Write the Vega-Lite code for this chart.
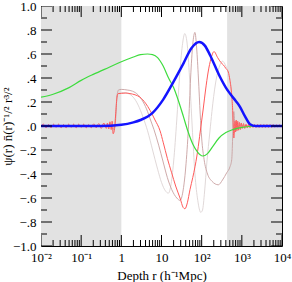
{
  "$schema": "https://vega.github.io/schema/vega-lite/v6.json",
  "width": 241,
  "height": 240,
  "autosize": "none",
  "padding": {"left": 41, "top": 6, "right": 10, "bottom": 36},
  "background": "white",
  "config": {
    "view": {"stroke": "black", "strokeWidth": 1},
    "axis": {
      "labelFont": "Liberation Serif",
      "titleFont": "Liberation Serif",
      "labelColor": "black",
      "titleColor": "black",
      "ticks": false,
      "domain": false,
      "grid": false,
      "labelFontSize": 13,
      "titleFontSize": 13,
      "titleFontWeight": "normal",
      "labelFlush": false,
      "labelOverlap": false,
      "labelBound": false,
      "labelPadding": 5
    }
  },
  "datasets": {
    "bg": [{"r": 0.01, "b": 1, "v": -1, "w": 1}, {"r": 430, "b": 10000, "v": -1, "w": 1}],
    "xmaj": [
      {"r": 0.01, "v": -1}, {"r": 0.1, "v": -1}, {"r": 1, "v": -1}, {"r": 10, "v": -1}, {"r": 100, "v": -1}, {"r": 1000, "v": -1}, {"r": 10000, "v": -1},
      {"r": 0.01, "v": 1}, {"r": 0.1, "v": 1}, {"r": 1, "v": 1}, {"r": 10, "v": 1}, {"r": 100, "v": 1}, {"r": 1000, "v": 1}, {"r": 10000, "v": 1}
    ],
    "xmin": [
      {"r": 0.02, "v": -1}, {"r": 0.03, "v": -1}, {"r": 0.04, "v": -1}, {"r": 0.05, "v": -1}, {"r": 0.06, "v": -1}, {"r": 0.07, "v": -1}, {"r": 0.08, "v": -1}, {"r": 0.09, "v": -1},
      {"r": 0.2, "v": -1}, {"r": 0.3, "v": -1}, {"r": 0.4, "v": -1}, {"r": 0.5, "v": -1}, {"r": 0.6, "v": -1}, {"r": 0.7, "v": -1}, {"r": 0.8, "v": -1}, {"r": 0.9, "v": -1},
      {"r": 2, "v": -1}, {"r": 3, "v": -1}, {"r": 4, "v": -1}, {"r": 5, "v": -1}, {"r": 6, "v": -1}, {"r": 7, "v": -1}, {"r": 8, "v": -1}, {"r": 9, "v": -1},
      {"r": 20, "v": -1}, {"r": 30, "v": -1}, {"r": 40, "v": -1}, {"r": 50, "v": -1}, {"r": 60, "v": -1}, {"r": 70, "v": -1}, {"r": 80, "v": -1}, {"r": 90, "v": -1},
      {"r": 200, "v": -1}, {"r": 300, "v": -1}, {"r": 400, "v": -1}, {"r": 500, "v": -1}, {"r": 600, "v": -1}, {"r": 700, "v": -1}, {"r": 800, "v": -1}, {"r": 900, "v": -1},
      {"r": 2000, "v": -1}, {"r": 3000, "v": -1}, {"r": 4000, "v": -1}, {"r": 5000, "v": -1}, {"r": 6000, "v": -1}, {"r": 7000, "v": -1}, {"r": 8000, "v": -1}, {"r": 9000, "v": -1},
      {"r": 0.02, "v": 1}, {"r": 0.03, "v": 1}, {"r": 0.04, "v": 1}, {"r": 0.05, "v": 1}, {"r": 0.06, "v": 1}, {"r": 0.07, "v": 1}, {"r": 0.08, "v": 1}, {"r": 0.09, "v": 1},
      {"r": 0.2, "v": 1}, {"r": 0.3, "v": 1}, {"r": 0.4, "v": 1}, {"r": 0.5, "v": 1}, {"r": 0.6, "v": 1}, {"r": 0.7, "v": 1}, {"r": 0.8, "v": 1}, {"r": 0.9, "v": 1},
      {"r": 2, "v": 1}, {"r": 3, "v": 1}, {"r": 4, "v": 1}, {"r": 5, "v": 1}, {"r": 6, "v": 1}, {"r": 7, "v": 1}, {"r": 8, "v": 1}, {"r": 9, "v": 1},
      {"r": 20, "v": 1}, {"r": 30, "v": 1}, {"r": 40, "v": 1}, {"r": 50, "v": 1}, {"r": 60, "v": 1}, {"r": 70, "v": 1}, {"r": 80, "v": 1}, {"r": 90, "v": 1},
      {"r": 200, "v": 1}, {"r": 300, "v": 1}, {"r": 400, "v": 1}, {"r": 500, "v": 1}, {"r": 600, "v": 1}, {"r": 700, "v": 1}, {"r": 800, "v": 1}, {"r": 900, "v": 1},
      {"r": 2000, "v": 1}, {"r": 3000, "v": 1}, {"r": 4000, "v": 1}, {"r": 5000, "v": 1}, {"r": 6000, "v": 1}, {"r": 7000, "v": 1}, {"r": 8000, "v": 1}, {"r": 9000, "v": 1}
    ],
    "ymaj": [
      {"v": -1, "r": 0.01}, {"v": -0.8, "r": 0.01}, {"v": -0.6, "r": 0.01}, {"v": -0.4, "r": 0.01}, {"v": -0.2, "r": 0.01}, {"v": 0, "r": 0.01}, {"v": 0.2, "r": 0.01}, {"v": 0.4, "r": 0.01}, {"v": 0.6, "r": 0.01}, {"v": 0.8, "r": 0.01}, {"v": 1, "r": 0.01},
      {"v": -1, "r": 10000}, {"v": -0.8, "r": 10000}, {"v": -0.6, "r": 10000}, {"v": -0.4, "r": 10000}, {"v": -0.2, "r": 10000}, {"v": 0, "r": 10000}, {"v": 0.2, "r": 10000}, {"v": 0.4, "r": 10000}, {"v": 0.6, "r": 10000}, {"v": 0.8, "r": 10000}, {"v": 1, "r": 10000}
    ],
    "ymin": [
      {"v": -0.9, "r": 0.01}, {"v": -0.7, "r": 0.01}, {"v": -0.5, "r": 0.01}, {"v": -0.3, "r": 0.01}, {"v": -0.1, "r": 0.01}, {"v": 0.1, "r": 0.01}, {"v": 0.3, "r": 0.01}, {"v": 0.5, "r": 0.01}, {"v": 0.7, "r": 0.01}, {"v": 0.9, "r": 0.01},
      {"v": -0.9, "r": 10000}, {"v": -0.7, "r": 10000}, {"v": -0.5, "r": 10000}, {"v": -0.3, "r": 10000}, {"v": -0.1, "r": 10000}, {"v": 0.1, "r": 10000}, {"v": 0.3, "r": 10000}, {"v": 0.5, "r": 10000}, {"v": 0.7, "r": 10000}, {"v": 0.9, "r": 10000}
    ],
    "p3": [
      {"r": 0.01, "v": 0}, {"r": 0.55, "v": 0}, {"r": 0.62, "v": -0.02}, {"r": 0.7, "v": 0.05}, {"r": 0.76, "v": 0.22}, {"r": 0.83, "v": 0.27}, {"r": 1.0, "v": 0.28}, {"r": 1.3, "v": 0.275}, {"r": 1.7, "v": 0.26}, {"r": 2.3, "v": 0.21}, {"r": 3, "v": 0.13}, {"r": 3.5, "v": 0.07}, {"r": 4.5, "v": -0.04}, {"r": 6, "v": -0.2}, {"r": 8, "v": -0.36}, {"r": 10, "v": -0.47}, {"r": 12.5, "v": -0.54}, {"r": 14.8, "v": -0.56}, {"r": 17, "v": -0.5}, {"r": 20, "v": -0.3}, {"r": 24, "v": 0.05}, {"r": 28, "v": 0.4}, {"r": 33, "v": 0.67}, {"r": 38, "v": 0.77}, {"r": 43, "v": 0.7}, {"r": 50, "v": 0.4}, {"r": 58, "v": 0.0}, {"r": 68, "v": -0.4}, {"r": 80, "v": -0.62}, {"r": 95, "v": -0.72}, {"r": 105, "v": -0.7}, {"r": 118, "v": -0.55}, {"r": 135, "v": -0.3}, {"r": 160, "v": -0.05}, {"r": 180, "v": 0.12}, {"r": 220, "v": 0.35}, {"r": 280, "v": 0.5}, {"r": 330, "v": 0.54}, {"r": 400, "v": 0.5}, {"r": 480, "v": 0.42}, {"r": 540, "v": 0.3}, {"r": 580, "v": 0.1}, {"r": 612, "v": 0.0}, {"r": 650, "v": -0.03}, {"r": 700, "v": 0.02}, {"r": 800, "v": 0}, {"r": 10000, "v": 0}
    ],
    "p2": [
      {"r": 0.01, "v": 0}, {"r": 0.5, "v": 0}, {"r": 0.6, "v": 0.01}, {"r": 0.65, "v": -0.03}, {"r": 0.72, "v": 0.05}, {"r": 0.78, "v": 0.25}, {"r": 0.85, "v": 0.3}, {"r": 1.0, "v": 0.305}, {"r": 1.4, "v": 0.3}, {"r": 1.9, "v": 0.29}, {"r": 2.6, "v": 0.26}, {"r": 3.5, "v": 0.2}, {"r": 4.5, "v": 0.12}, {"r": 5.2, "v": 0.06}, {"r": 6.5, "v": -0.03}, {"r": 8.5, "v": -0.16}, {"r": 11, "v": -0.3}, {"r": 14, "v": -0.43}, {"r": 18, "v": -0.53}, {"r": 24, "v": -0.6}, {"r": 29, "v": -0.62}, {"r": 34, "v": -0.55}, {"r": 40, "v": -0.35}, {"r": 47, "v": 0.0}, {"r": 53, "v": 0.4}, {"r": 60, "v": 0.68}, {"r": 68, "v": 0.78}, {"r": 75, "v": 0.65}, {"r": 83, "v": 0.4}, {"r": 92, "v": 0.1}, {"r": 100, "v": -0.1}, {"r": 115, "v": -0.28}, {"r": 140, "v": -0.4}, {"r": 180, "v": -0.46}, {"r": 260, "v": -0.49}, {"r": 330, "v": -0.45}, {"r": 420, "v": -0.39}, {"r": 507, "v": -0.34}, {"r": 560, "v": -0.28}, {"r": 590, "v": -0.1}, {"r": 612, "v": 0.1}, {"r": 635, "v": 0.12}, {"r": 660, "v": 0.04}, {"r": 690, "v": -0.03}, {"r": 740, "v": 0.02}, {"r": 800, "v": -0.015}, {"r": 900, "v": 0.01}, {"r": 1100, "v": 0}, {"r": 10000, "v": 0}
    ],
    "red": [
      {"r": 0.01, "v": 0.0}, {"r": 0.01155, "v": 0.015}, {"r": 0.01334, "v": -0.015}, {"r": 0.0154, "v": 0.012}, {"r": 0.01778, "v": -0.015}, {"r": 0.02054, "v": 0.015}, {"r": 0.02371, "v": -0.012}, {"r": 0.02738, "v": 0.015}, {"r": 0.03162, "v": -0.015}, {"r": 0.03652, "v": 0.012}, {"r": 0.04217, "v": -0.015}, {"r": 0.0487, "v": 0.015}, {"r": 0.05623, "v": -0.012}, {"r": 0.06494, "v": 0.015}, {"r": 0.07499, "v": -0.015}, {"r": 0.0866, "v": 0.015}, {"r": 0.1, "v": -0.012}, {"r": 0.1155, "v": 0.015}, {"r": 0.1334, "v": -0.015}, {"r": 0.154, "v": 0.012}, {"r": 0.1778, "v": -0.015}, {"r": 0.2054, "v": 0.018}, {"r": 0.2371, "v": -0.015}, {"r": 0.2738, "v": 0.02}, {"r": 0.3162, "v": -0.02}, {"r": 0.3652, "v": 0.025}, {"r": 0.4217, "v": -0.02}, {"r": 0.45, "v": 0.025}, {"r": 0.487, "v": -0.025}, {"r": 0.52, "v": 0.035}, {"r": 0.56, "v": -0.03}, {"r": 0.59, "v": 0.04}, {"r": 0.625, "v": -0.065}, {"r": 0.68, "v": -0.02}, {"r": 0.73, "v": 0.12}, {"r": 0.78, "v": 0.24}, {"r": 0.83, "v": 0.27}, {"r": 1.0, "v": 0.272}, {"r": 1.3, "v": 0.275}, {"r": 1.64, "v": 0.27}, {"r": 2.2, "v": 0.26}, {"r": 2.9, "v": 0.24}, {"r": 4.0, "v": 0.19}, {"r": 5.2, "v": 0.13}, {"r": 6.9, "v": 0.05}, {"r": 9.2, "v": -0.04}, {"r": 11.1, "v": -0.14}, {"r": 14, "v": -0.27}, {"r": 17.9, "v": -0.39}, {"r": 22.5, "v": -0.5}, {"r": 28.9, "v": -0.6}, {"r": 34.8, "v": -0.68}, {"r": 38.4, "v": -0.69}, {"r": 44, "v": -0.64}, {"r": 51.2, "v": -0.53}, {"r": 60, "v": -0.43}, {"r": 68.2, "v": -0.34}, {"r": 76, "v": -0.25}, {"r": 82.4, "v": -0.17}, {"r": 96, "v": 0.0}, {"r": 110, "v": 0.15}, {"r": 125, "v": 0.3}, {"r": 145, "v": 0.45}, {"r": 170, "v": 0.56}, {"r": 203, "v": 0.62}, {"r": 250, "v": 0.57}, {"r": 300, "v": 0.53}, {"r": 345, "v": 0.51}, {"r": 400, "v": 0.48}, {"r": 460, "v": 0.45}, {"r": 507, "v": 0.38}, {"r": 559, "v": 0.26}, {"r": 592, "v": 0.13}, {"r": 612, "v": 0.0}, {"r": 632, "v": -0.1}, {"r": 655, "v": -0.04}, {"r": 675, "v": 0.04}, {"r": 700, "v": -0.05}, {"r": 725, "v": 0.05}, {"r": 755, "v": -0.04}, {"r": 790, "v": 0.04}, {"r": 830, "v": -0.035}, {"r": 870, "v": 0.03}, {"r": 920, "v": -0.03}, {"r": 970, "v": 0.025}, {"r": 1030, "v": -0.02}, {"r": 1100, "v": 0.02}, {"r": 1180, "v": -0.02}, {"r": 1270, "v": 0.015}, {"r": 1370, "v": -0.015}, {"r": 1480, "v": 0.015}, {"r": 1600, "v": -0.015}, {"r": 1740, "v": 0.015}, {"r": 1900, "v": -0.012}, {"r": 2070, "v": 0.012}, {"r": 2260, "v": -0.012}, {"r": 2470, "v": 0.012}, {"r": 2700, "v": -0.012}, {"r": 2950, "v": 0.012}, {"r": 3230, "v": -0.012}, {"r": 3530, "v": 0.012}, {"r": 3860, "v": -0.012}, {"r": 4220, "v": 0.012}, {"r": 4620, "v": -0.012}, {"r": 5050, "v": 0.012}, {"r": 5520, "v": -0.012}, {"r": 6040, "v": 0.012}, {"r": 6600, "v": -0.01}, {"r": 7220, "v": 0.01}, {"r": 7900, "v": -0.01}, {"r": 8640, "v": 0.01}, {"r": 9450, "v": -0.01}, {"r": 10000, "v": 0}
    ],
    "green": [
      {"r": 0.01, "v": 0.24}, {"r": 0.02, "v": 0.265}, {"r": 0.05, "v": 0.32}, {"r": 0.1, "v": 0.38}, {"r": 0.2, "v": 0.43}, {"r": 0.5, "v": 0.49}, {"r": 1, "v": 0.535}, {"r": 2, "v": 0.575}, {"r": 3, "v": 0.595}, {"r": 4.5, "v": 0.6}, {"r": 6, "v": 0.595}, {"r": 8, "v": 0.57}, {"r": 11, "v": 0.5}, {"r": 15, "v": 0.4}, {"r": 20, "v": 0.32}, {"r": 27, "v": 0.2}, {"r": 35, "v": 0.08}, {"r": 45, "v": -0.04}, {"r": 60, "v": -0.15}, {"r": 80, "v": -0.22}, {"r": 105, "v": -0.25}, {"r": 140, "v": -0.23}, {"r": 190, "v": -0.17}, {"r": 270, "v": -0.1}, {"r": 400, "v": -0.055}, {"r": 600, "v": -0.03}, {"r": 1000, "v": -0.012}, {"r": 1500, "v": -0.004}, {"r": 2500, "v": 0}, {"r": 10000, "v": 0}
    ],
    "blue": [
      {"r": 0.01, "v": 0}, {"r": 0.3, "v": 0.0}, {"r": 1, "v": 0.01}, {"r": 2, "v": 0.03}, {"r": 3, "v": 0.05}, {"r": 6, "v": 0.11}, {"r": 11, "v": 0.22}, {"r": 20, "v": 0.37}, {"r": 35, "v": 0.52}, {"r": 56, "v": 0.65}, {"r": 87, "v": 0.7}, {"r": 120, "v": 0.67}, {"r": 162, "v": 0.59}, {"r": 285, "v": 0.41}, {"r": 400, "v": 0.32}, {"r": 507, "v": 0.27}, {"r": 700, "v": 0.21}, {"r": 900, "v": 0.16}, {"r": 1200, "v": 0.08}, {"r": 1600, "v": 0.015}, {"r": 2200, "v": 0}, {"r": 10000, "v": 0}
    ]
  },
  "encoding": {
    "x": {"field": "r", "type": "quantitative", "scale": {"type": "log", "domain": [0.01, 10000], "nice": false},
      "axis": {
        "orient": "bottom",
        "values": [0.01,0.1,1,10,100,1000,10000],
        "labelExpr": "datum.value==0.01?'10⁻²':datum.value==0.1?'10⁻¹':datum.value==1?'1':datum.value==10?'10':datum.value==100?'10²':datum.value==1000?'10³':'10⁴'",
        "title": "Depth r  (h⁻¹Mpc)",
        "titleY": 33,
        "titleBaseline": "alphabetic"
      }
    },
    "y": {"field": "v", "type": "quantitative", "scale": {"domain": [-1, 1], "nice": false},
      "axis": {
        "orient": "left",
        "values": [-1,-0.8,-0.6,-0.4,-0.2,0,0.2,0.4,0.6,0.8,1],
        "labelExpr": "datum.value == 1 ? '1.0' : datum.value == -1 ? '−1.0' : (datum.value < 0 ? '−.' : '.') + abs(round(datum.value*10))",
        "title": "ψ(r) n̄(r)⁻¹/² r³/²",
        "titleX": -34,
        "titleY": 120,
        "titleBaseline": "middle",
        "titleAngle": -90
      }
    }
  },
  "layer": [
    {
      "data": {"name": "bg"},
      "mark": {"type": "rect", "fill": "#e2e2e2", "stroke": null, "opacity": 1},
      "encoding": {
        "x2": {"field": "b"},
        "y2": {"field": "w"}
      }
    },
    {
      "data": {"name": "p3"},
      "mark": {"type": "line", "color": "#dcd4d4", "strokeWidth": 0.9, "interpolate": "monotone", "clip": true}
    },
    {
      "data": {"name": "p2"},
      "mark": {"type": "line", "color": "#c8a0a0", "strokeWidth": 0.9, "interpolate": "monotone", "clip": true}
    },
    {
      "data": {"name": "red"},
      "mark": {"type": "line", "color": "#ff5a5a", "strokeWidth": 1, "interpolate": "monotone", "clip": true}
    },
    {
      "data": {"name": "green"},
      "mark": {"type": "line", "color": "#3ddc3d", "strokeWidth": 1.2, "interpolate": "monotone", "clip": true}
    },
    {
      "data": {"name": "blue"},
      "mark": {"type": "line", "color": "#1414ff", "strokeWidth": 2.5, "interpolate": "monotone", "clip": true}
    },
    {
      "data": {"name": "xmaj"},
      "mark": {"type": "tick", "orient": "vertical", "color": "black", "opacity": 1, "thickness": 1, "size": 22, "clip": true}
    },
    {
      "data": {"name": "xmin"},
      "mark": {"type": "tick", "orient": "vertical", "color": "black", "opacity": 1, "thickness": 1, "size": 12, "clip": true}
    },
    {
      "data": {"name": "ymaj"},
      "mark": {"type": "tick", "orient": "horizontal", "color": "black", "opacity": 1, "thickness": 1, "size": 22, "clip": true}
    },
    {
      "data": {"name": "ymin"},
      "mark": {"type": "tick", "orient": "horizontal", "color": "black", "opacity": 1, "thickness": 1, "size": 12, "clip": true}
    }
  ]
}
